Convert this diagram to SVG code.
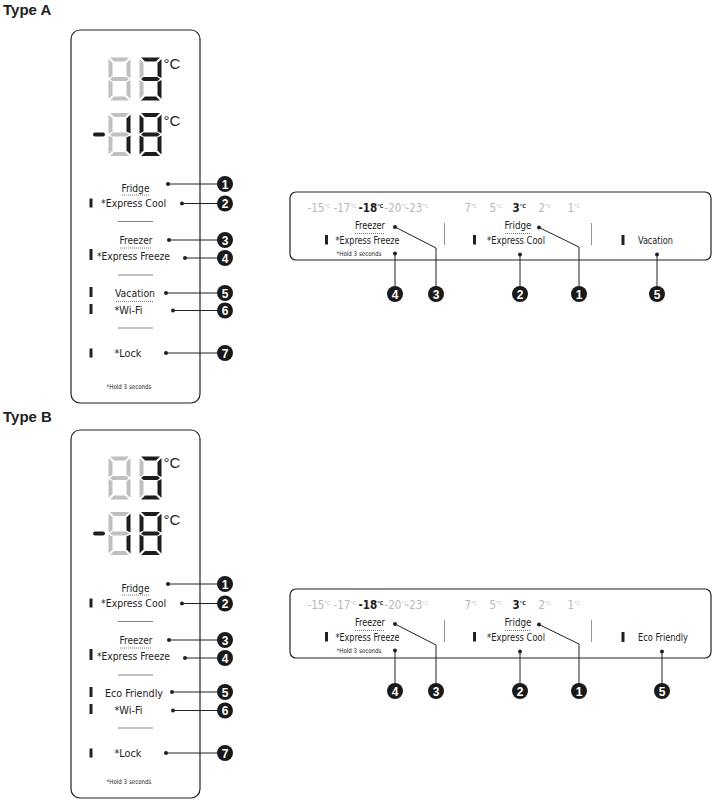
<svg xmlns="http://www.w3.org/2000/svg" xmlns:xlink="http://www.w3.org/1999/xlink" width="715" height="804" viewBox="0 0 715 804">
<style>
.title{font-family:'Liberation Sans',Arial,sans-serif;font-weight:bold;font-size:15px;fill:#222}
.lbl{font-family:'Liberation Sans Narrow','DejaVu Sans Condensed','Roboto Condensed',sans-serif;font-stretch:condensed;font-size:11px;fill:#222}
.mid{text-anchor:middle}
.sm{font-size:6.5px}
.rl{font-size:10px}
.tmp{font-family:'Liberation Sans Narrow','DejaVu Sans Condensed',sans-serif;font-stretch:condensed;font-size:11.5px;fill:#b8b8b8}
.tmp .deg{font-size:5.5px}
.ton{fill:#1e1e1e;font-weight:bold}
.panel{fill:#fff;stroke:#222;stroke-width:1.2}
.bar{fill:#222}
.sep{stroke:#666;stroke-width:0.8}
.vdiv{stroke:#777;stroke-width:0.8}
.ul{stroke:#555;stroke-width:0.8;stroke-dasharray:1 1}
.con{stroke:#222;stroke-width:1;fill:none}
.dot{fill:#222}
.num circle{fill:#1a1a1a}
.num text{font-family:'Liberation Sans',Arial,sans-serif;font-weight:bold;font-size:12px;fill:#fff;text-anchor:middle}
.on{fill:#1e1e1e}
.off{fill:#c0c0c0}
.dc{font-family:'Liberation Sans',Arial,sans-serif;font-size:15px;fill:#222}
</style>
<defs>
<path id="sa" d="M1.5,0 H20.5 L16.5,4 H5.5 Z"/>
<path id="sb" d="M22,1.5 V20.5 L18,18.5 V5.5 Z"/>
<path id="sc" d="M22,22.5 V41.5 L18,37.5 V24.5 Z"/>
<path id="sd" d="M1.5,43 L5.5,39 H16.5 L20.5,43 Z"/>
<path id="se" d="M0,22.5 L4,24.5 V37.5 L0,41.5 Z"/>
<path id="sf" d="M0,1.5 L4,5.5 V18.5 L0,20.5 Z"/>
<path id="sg" d="M1.5,21.5 L4,19.5 H18 L20.5,21.5 L18,23.5 H4 Z"/>
<g id="display">
  <g transform="translate(108.5,57.5)" class="off">
    <use xlink:href="#sa"/><use xlink:href="#sb"/><use xlink:href="#sc"/><use xlink:href="#sd"/><use xlink:href="#se"/><use xlink:href="#sf"/><use xlink:href="#sg"/>
  </g>
  <g transform="translate(139.5,57.5)">
    <use xlink:href="#sa" class="on"/><use xlink:href="#sb" class="on"/><use xlink:href="#sc" class="on"/><use xlink:href="#sd" class="on"/><use xlink:href="#se" class="off"/><use xlink:href="#sf" class="off"/><use xlink:href="#sg" class="on"/>
  </g>
  <text x="163.5" y="69" class="dc">°C</text>
  <rect x="93" y="132.5" width="12" height="4" rx="2" class="on"/>
  <g transform="translate(108.5,113)">
    <use xlink:href="#sa" class="off"/><use xlink:href="#sb" class="on"/><use xlink:href="#sc" class="on"/><use xlink:href="#sd" class="off"/><use xlink:href="#se" class="off"/><use xlink:href="#sf" class="off"/><use xlink:href="#sg" class="off"/>
  </g>
  <g transform="translate(139.5,113)" class="on">
    <use xlink:href="#sa"/><use xlink:href="#sb"/><use xlink:href="#sc"/><use xlink:href="#sd"/><use xlink:href="#se"/><use xlink:href="#sf"/><use xlink:href="#sg"/>
  </g>
  <text x="163.5" y="126" class="dc">°C</text>
</g>
<g id="temps">
  <text class="tmp" x="307.5" y="212">-15<tspan class="deg" dy="-4">°C</tspan></text>
  <text class="tmp" x="333.5" y="212">-17<tspan class="deg" dy="-4">°C</tspan></text>
  <text class="tmp ton" x="358.5" y="212">-18<tspan class="deg" dy="-4">°C</tspan></text>
  <text class="tmp" x="384.5" y="212">-20<tspan class="deg" dy="-4">°C</tspan></text>
  <text class="tmp" x="405.5" y="212">-23<tspan class="deg" dy="-4">°C</tspan></text>
  <text class="tmp" x="464.5" y="212">7<tspan class="deg" dy="-4">°C</tspan></text>
  <text class="tmp" x="489.5" y="212">5<tspan class="deg" dy="-4">°C</tspan></text>
  <text class="tmp ton" x="512.5" y="212">3<tspan class="deg" dy="-4">°C</tspan></text>
  <text class="tmp" x="538.5" y="212">2<tspan class="deg" dy="-4">°C</tspan></text>
  <text class="tmp" x="567.5" y="212">1<tspan class="deg" dy="-4">°C</tspan></text>
</g>
</defs>

<!-- ===== TYPE A ===== -->
<g id="typeA-title"><text x="3" y="15" class="title">Type A</text></g>

<g id="A-panel-vertical">
  <rect x="71" y="30" width="129" height="373" rx="9" class="panel"/>
  <use xlink:href="#display"/>
  <rect x="89.5" y="198.5" width="3" height="9" class="bar"/>
  <rect x="89.5" y="249" width="3" height="11" class="bar"/>
  <rect x="89.5" y="287" width="3" height="10" class="bar"/>
  <rect x="89.5" y="304" width="3" height="10" class="bar"/>
  <rect x="89.5" y="348.5" width="3" height="9" class="bar"/>
  <line x1="118" y1="221.5" x2="153" y2="221.5" class="sep"/>
  <line x1="118" y1="275" x2="153" y2="275" class="sep"/>
  <line x1="118" y1="328" x2="153" y2="328" class="sep"/>
</g>
<g id="A-fridge"><text x="135.5" y="191.5" class="lbl mid" textLength="28" lengthAdjust="spacingAndGlyphs">Fridge</text><line x1="122" y1="195" x2="149" y2="195" class="ul"/></g>
<g id="A-expresscool"><text x="133.5" y="207" class="lbl mid" textLength="65" lengthAdjust="spacingAndGlyphs">*Express Cool</text></g>
<g id="A-freezer"><text x="136" y="243.5" class="lbl mid" textLength="33" lengthAdjust="spacingAndGlyphs">Freezer</text><line x1="120" y1="248" x2="152" y2="248" class="ul"/></g>
<g id="A-expressfreeze"><text x="133.5" y="260" class="lbl mid" textLength="73" lengthAdjust="spacingAndGlyphs">*Express Freeze</text></g>
<g id="A-vacation"><text x="135" y="297" class="lbl mid" textLength="40" lengthAdjust="spacingAndGlyphs">Vacation</text><line x1="116" y1="301.5" x2="154" y2="301.5" class="ul"/></g>
<g id="A-wifi"><text x="128.5" y="313.5" class="lbl mid" textLength="28" lengthAdjust="spacingAndGlyphs">*Wi-Fi</text></g>
<g id="A-lock"><text x="128" y="357" class="lbl mid" textLength="27" lengthAdjust="spacingAndGlyphs">*Lock</text></g>
<g id="A-hold"><text x="129" y="388.5" class="lbl mid sm" textLength="45" lengthAdjust="spacingAndGlyphs">*Hold 3 seconds</text></g>

<g id="A-panel-horizontal">
  <rect x="290" y="192" width="421" height="68" rx="6" class="panel"/>
  <use xlink:href="#temps"/>
  <line x1="444.5" y1="223" x2="444.5" y2="245" class="vdiv"/>
  <line x1="591.5" y1="223" x2="591.5" y2="245" class="vdiv"/>
  <rect x="325" y="235" width="3" height="9.5" class="bar"/>
  <rect x="473" y="235" width="3" height="9.5" class="bar"/>
  <rect x="621.5" y="235" width="3" height="10" class="bar"/>
</g>
<g id="AH-freezer"><text x="370" y="228.5" class="lbl rl mid" textLength="30" lengthAdjust="spacingAndGlyphs">Freezer</text><line x1="355" y1="233.5" x2="385" y2="233.5" class="ul"/></g>
<g id="AH-expressfreeze"><text x="335.5" y="244" class="lbl rl" textLength="64" lengthAdjust="spacingAndGlyphs">*Express Freeze</text></g>
<g id="AH-hold"><text x="336.5" y="256" class="lbl sm" textLength="45" lengthAdjust="spacingAndGlyphs">*Hold 3 seconds</text></g>
<g id="AH-fridge"><text x="518" y="228.5" class="lbl rl mid" textLength="27" lengthAdjust="spacingAndGlyphs">Fridge</text><line x1="505" y1="233.5" x2="531" y2="233.5" class="ul"/></g>
<g id="AH-expresscool"><text x="487" y="244" class="lbl rl" textLength="58" lengthAdjust="spacingAndGlyphs">*Express Cool</text></g>
<g id="AH-vacation"><text x="638" y="244" class="lbl rl" textLength="35" lengthAdjust="spacingAndGlyphs">Vacation</text></g>

<g id="A-connectors">
  <circle cx="168" cy="184" r="2" class="dot"/><line x1="168" y1="184" x2="220" y2="184" class="con"/>
  <circle cx="182" cy="203.5" r="2" class="dot"/><line x1="182" y1="203.5" x2="220" y2="203.5" class="con"/>
  <circle cx="169" cy="240" r="2" class="dot"/><line x1="169" y1="240" x2="220" y2="240" class="con"/>
  <circle cx="185" cy="258" r="2" class="dot"/><line x1="185" y1="258" x2="220" y2="258" class="con"/>
  <circle cx="166" cy="293" r="2" class="dot"/><line x1="166" y1="293" x2="220" y2="293" class="con"/>
  <circle cx="173" cy="310.5" r="2" class="dot"/><line x1="173" y1="310.5" x2="220" y2="310.5" class="con"/>
  <circle cx="166" cy="353" r="2" class="dot"/><line x1="166" y1="353" x2="220" y2="353" class="con"/>
  <circle cx="395" cy="227" r="2" class="dot"/><polyline points="395,227 436,248 436,288" class="con"/>
  <circle cx="395" cy="253.5" r="2" class="dot"/><line x1="395" y1="253.5" x2="395" y2="288" class="con"/>
  <circle cx="539" cy="227.5" r="2" class="dot"/><polyline points="539,227.5 579,247 579,288" class="con"/>
  <circle cx="520" cy="254.5" r="2" class="dot"/><line x1="520" y1="254.5" x2="520" y2="288" class="con"/>
  <circle cx="657" cy="254.5" r="2" class="dot"/><line x1="657" y1="254.5" x2="657" y2="288" class="con"/>
</g>

<g id="A-callout-1" class="num"><circle cx="225" cy="184" r="8"/><text x="225" y="188.5">1</text></g>
<g id="A-callout-2" class="num"><circle cx="225" cy="203.5" r="8"/><text x="225" y="208">2</text></g>
<g id="A-callout-3" class="num"><circle cx="225" cy="240" r="8"/><text x="225" y="244.5">3</text></g>
<g id="A-callout-4" class="num"><circle cx="225" cy="258" r="8"/><text x="225" y="262.5">4</text></g>
<g id="A-callout-5" class="num"><circle cx="225" cy="293" r="8"/><text x="225" y="297.5">5</text></g>
<g id="A-callout-6" class="num"><circle cx="225" cy="310.5" r="8"/><text x="225" y="315">6</text></g>
<g id="A-callout-7" class="num"><circle cx="225" cy="353" r="8"/><text x="225" y="357.5">7</text></g>
<g id="AH-callout-4" class="num"><circle cx="395" cy="294" r="8"/><text x="395" y="298.5">4</text></g>
<g id="AH-callout-3" class="num"><circle cx="436" cy="294" r="8"/><text x="436" y="298.5">3</text></g>
<g id="AH-callout-2" class="num"><circle cx="520" cy="294" r="8"/><text x="520" y="298.5">2</text></g>
<g id="AH-callout-1" class="num"><circle cx="579" cy="294" r="8"/><text x="579" y="298.5">1</text></g>
<g id="AH-callout-5" class="num"><circle cx="657" cy="294" r="8"/><text x="657" y="298.5">5</text></g>

<!-- ===== TYPE B ===== -->
<g id="typeB-title"><text x="3" y="422" class="title">Type B</text></g>

<g id="B-panel-vertical">
  <rect x="71" y="430" width="129" height="368" rx="9" class="panel"/>
  <use xlink:href="#display" y="399"/>
  <rect x="89.5" y="598.5" width="3" height="9" class="bar"/>
  <rect x="89.5" y="649" width="3" height="11" class="bar"/>
  <rect x="89.5" y="687" width="3" height="10" class="bar"/>
  <rect x="89.5" y="704" width="3" height="10" class="bar"/>
  <rect x="89.5" y="748.5" width="3" height="9" class="bar"/>
  <line x1="118" y1="621.5" x2="153" y2="621.5" class="sep"/>
  <line x1="118" y1="675" x2="153" y2="675" class="sep"/>
  <line x1="118" y1="728" x2="153" y2="728" class="sep"/>
</g>
<g id="B-fridge"><text x="135.5" y="591.5" class="lbl mid" textLength="28" lengthAdjust="spacingAndGlyphs">Fridge</text><line x1="122" y1="595" x2="149" y2="595" class="ul"/></g>
<g id="B-expresscool"><text x="133.5" y="607" class="lbl mid" textLength="65" lengthAdjust="spacingAndGlyphs">*Express Cool</text></g>
<g id="B-freezer"><text x="136" y="643.5" class="lbl mid" textLength="33" lengthAdjust="spacingAndGlyphs">Freezer</text><line x1="120" y1="648" x2="152" y2="648" class="ul"/></g>
<g id="B-expressfreeze"><text x="133.5" y="660" class="lbl mid" textLength="73" lengthAdjust="spacingAndGlyphs">*Express Freeze</text></g>
<g id="B-ecofriendly"><text x="134" y="697" class="lbl mid" textLength="58" lengthAdjust="spacingAndGlyphs">Eco Friendly</text></g>
<g id="B-wifi"><text x="128.5" y="713.5" class="lbl mid" textLength="28" lengthAdjust="spacingAndGlyphs">*Wi-Fi</text></g>
<g id="B-lock"><text x="128" y="757" class="lbl mid" textLength="27" lengthAdjust="spacingAndGlyphs">*Lock</text></g>
<g id="B-hold"><text x="129" y="784" class="lbl mid sm" textLength="45" lengthAdjust="spacingAndGlyphs">*Hold 3 seconds</text></g>

<g id="B-panel-horizontal">
  <rect x="290" y="589" width="421" height="69" rx="6" class="panel"/>
  <use xlink:href="#temps" y="397"/>
  <line x1="444.5" y1="620" x2="444.5" y2="642" class="vdiv"/>
  <line x1="591.5" y1="620" x2="591.5" y2="642" class="vdiv"/>
  <rect x="325" y="632" width="3" height="9.5" class="bar"/>
  <rect x="473" y="632" width="3" height="9.5" class="bar"/>
  <rect x="621.5" y="632" width="3" height="10" class="bar"/>
</g>
<g id="BH-freezer"><text x="370" y="625.5" class="lbl rl mid" textLength="30" lengthAdjust="spacingAndGlyphs">Freezer</text><line x1="355" y1="630.5" x2="385" y2="630.5" class="ul"/></g>
<g id="BH-expressfreeze"><text x="335.5" y="641" class="lbl rl" textLength="64" lengthAdjust="spacingAndGlyphs">*Express Freeze</text></g>
<g id="BH-hold"><text x="336.5" y="653" class="lbl sm" textLength="45" lengthAdjust="spacingAndGlyphs">*Hold 3 seconds</text></g>
<g id="BH-fridge"><text x="518" y="625.5" class="lbl rl mid" textLength="27" lengthAdjust="spacingAndGlyphs">Fridge</text><line x1="505" y1="630.5" x2="531" y2="630.5" class="ul"/></g>
<g id="BH-expresscool"><text x="487" y="641" class="lbl rl" textLength="58" lengthAdjust="spacingAndGlyphs">*Express Cool</text></g>
<g id="BH-ecofriendly"><text x="638" y="641" class="lbl rl" textLength="50" lengthAdjust="spacingAndGlyphs">Eco Friendly</text></g>

<g id="B-connectors">
  <circle cx="168" cy="584" r="2" class="dot"/><line x1="168" y1="584" x2="220" y2="584" class="con"/>
  <circle cx="182" cy="603.5" r="2" class="dot"/><line x1="182" y1="603.5" x2="220" y2="603.5" class="con"/>
  <circle cx="169" cy="640" r="2" class="dot"/><line x1="169" y1="640" x2="220" y2="640" class="con"/>
  <circle cx="185" cy="658" r="2" class="dot"/><line x1="185" y1="658" x2="220" y2="658" class="con"/>
  <circle cx="172" cy="692" r="2" class="dot"/><line x1="172" y1="692" x2="220" y2="692" class="con"/>
  <circle cx="173" cy="710.5" r="2" class="dot"/><line x1="173" y1="710.5" x2="220" y2="710.5" class="con"/>
  <circle cx="166" cy="753" r="2" class="dot"/><line x1="166" y1="753" x2="220" y2="753" class="con"/>
  <circle cx="395" cy="624" r="2" class="dot"/><polyline points="395,624 436,645 436,685" class="con"/>
  <circle cx="395" cy="650.5" r="2" class="dot"/><line x1="395" y1="650.5" x2="395" y2="685" class="con"/>
  <circle cx="539" cy="624.5" r="2" class="dot"/><polyline points="539,624.5 579,644 579,685" class="con"/>
  <circle cx="520" cy="651.5" r="2" class="dot"/><line x1="520" y1="651.5" x2="520" y2="685" class="con"/>
  <circle cx="662" cy="651.5" r="2" class="dot"/><line x1="662" y1="651.5" x2="662" y2="685" class="con"/>
</g>

<g id="B-callout-1" class="num"><circle cx="225" cy="584" r="8"/><text x="225" y="588.5">1</text></g>
<g id="B-callout-2" class="num"><circle cx="225" cy="603.5" r="8"/><text x="225" y="608">2</text></g>
<g id="B-callout-3" class="num"><circle cx="225" cy="640" r="8"/><text x="225" y="644.5">3</text></g>
<g id="B-callout-4" class="num"><circle cx="225" cy="658" r="8"/><text x="225" y="662.5">4</text></g>
<g id="B-callout-5" class="num"><circle cx="225" cy="692" r="8"/><text x="225" y="696.5">5</text></g>
<g id="B-callout-6" class="num"><circle cx="225" cy="710.5" r="8"/><text x="225" y="715">6</text></g>
<g id="B-callout-7" class="num"><circle cx="225" cy="753" r="8"/><text x="225" y="757.5">7</text></g>
<g id="BH-callout-4" class="num"><circle cx="395" cy="691" r="8"/><text x="395" y="695.5">4</text></g>
<g id="BH-callout-3" class="num"><circle cx="436" cy="691" r="8"/><text x="436" y="695.5">3</text></g>
<g id="BH-callout-2" class="num"><circle cx="520" cy="691" r="8"/><text x="520" y="695.5">2</text></g>
<g id="BH-callout-1" class="num"><circle cx="579" cy="691" r="8"/><text x="579" y="695.5">1</text></g>
<g id="BH-callout-5" class="num"><circle cx="662" cy="691" r="8"/><text x="662" y="695.5">5</text></g>
</svg>
